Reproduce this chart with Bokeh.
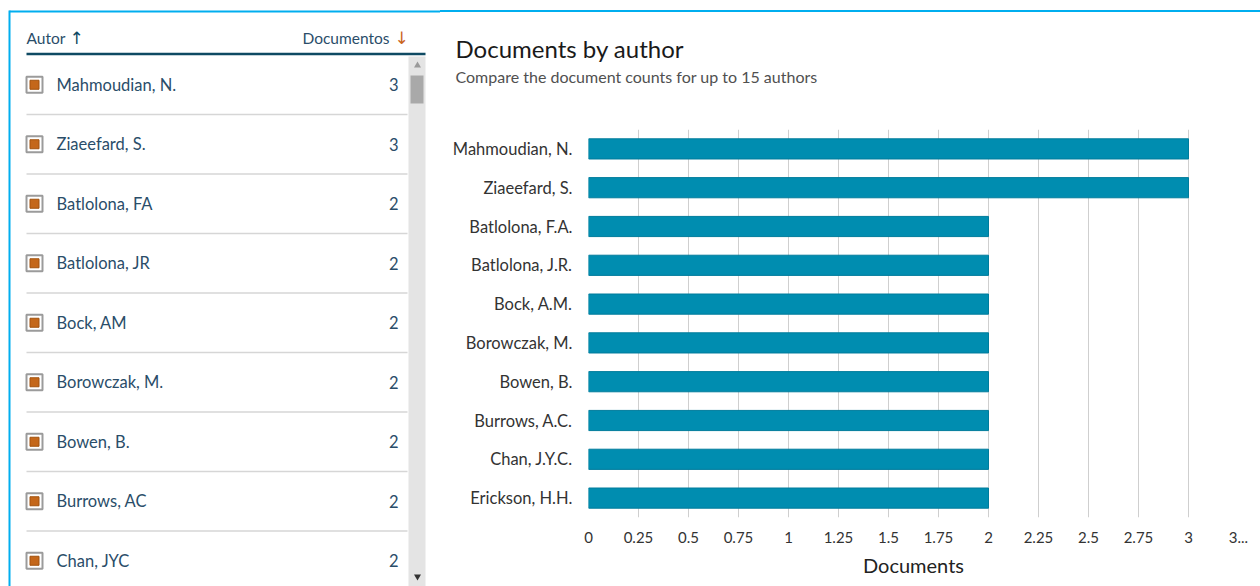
from bokeh.plotting import figure
from bokeh.layouts import row, column
from bokeh.models import Range1d, FactorRange, FixedTicker, ColumnDataSource, Title, Div, Spacer
from bokeh.core.properties import value
from bokeh.embed import file_html
from bokeh.resources import INLINE

# ---------------- data ----------------
list_authors = ["Mahmoudian, N.", "Ziaeefard, S.", "Batlolona, FA", "Batlolona, JR",
                "Bock, AM", "Borowczak, M.", "Bowen, B.", "Burrows, AC", "Chan, JYC"]
list_counts = [3, 3, 2, 2, 2, 2, 2, 2, 2]

chart_authors = ["Mahmoudian, N.", "Ziaeefard, S.", "Batlolona, F.A.", "Batlolona, J.R.",
                 "Bock, A.M.", "Borowczak, M.", "Bowen, B.", "Burrows, A.C.",
                 "Chan, J.Y.C.", "Erickson, H.H."]
chart_values = [3, 3, 2, 2, 2, 2, 2, 2, 2, 2]

x_ticks = [0, 0.25, 0.5, 0.75, 1, 1.25, 1.5, 1.75, 2, 2.25, 2.5, 2.75, 3, 3.25]
x_tick_labels = ["0", "0.25", "0.5", "0.75", "1", "1.25", "1.5", "1.75", "2",
                 "2.25", "2.5", "2.75", "3", "3..."]

chart_title = "Documents by author"
chart_subtitle = "Compare the document counts for up to 15 authors"
x_label = "Documents"
col_author = "Autor"
col_docs = "Documentos"

# ---------------- style ----------------
FONT = "Lato"
BLUE_BORDER = "#00aeef"
BAR = "#008db0"
BAR_EDGE = "#007c9c"
TEXT_LIST = "#2a4d69"
HEADER_LINE = "#0f4a63"
ORANGE = "#c9651d"

H = 586
LW = 440
RW = 820
TOP = 12  # bottom of the blue line of the right part


def blank(w, h):
    f = figure(width=w, height=h, x_range=Range1d(0, w), y_range=Range1d(h, 0),
               output_backend="svg", toolbar_location=None, min_border=0,
               x_axis_location=None, y_axis_location=None)
    f.grid.visible = False
    f.outline_line_color = None
    f.background_fill_color = "white"
    f.border_fill_color = "white"
    return f

# ---------------- left list panel ----------------
left = blank(LW, H)
left.segment(x0=[9, 9], y0=[10, 11], x1=[9, LW], y1=[H, 11],
             line_color=BLUE_BORDER, line_width=2)

row_top = 54.5
row_h = 59.5
n = len(list_authors)
ys = [row_top + (i + 0.5) * row_h for i in range(n)]

# scrollbar
left.quad(left=[408], right=[425], top=[56], bottom=[H], fill_color="#e4e4e4", line_color=None)
left.quad(left=[410], right=[423], top=[75], bottom=[103], fill_color="#a9a9a9", line_color=None)
left.scatter(x=[417], y=[65], marker="triangle", size=7, fill_color="#9a9a9a", line_color=None)
left.scatter(x=[417], y=[576], marker="inverted_triangle", size=7, fill_color="#333333", line_color=None)

# header
left.text(x=[26], y=[37], text=[col_author], text_font=value(FONT), text_font_size="15.5px",
          text_color=TEXT_LIST, text_baseline="middle", text_align="left")
left.text(x=[76], y=[37], text=["\u2191"], text_font=value("DejaVu Sans"), text_font_size="17px",
          text_color=HEADER_LINE, text_baseline="middle", text_align="center")
left.text(x=[389], y=[37], text=[col_docs], text_font=value(FONT), text_font_size="15.5px",
          text_color=TEXT_LIST, text_baseline="middle", text_align="right")
left.text(x=[401], y=[37], text=["\u2193"], text_font=value("DejaVu Sans"), text_font_size="17px",
          text_color=ORANGE, text_baseline="middle", text_align="center")
left.segment(x0=[26], y0=[53.5], x1=[425], y1=[53.5], line_color=HEADER_LINE, line_width=2.5)

# separators
sep_y = [y + row_h / 2 for y in ys[:-1]]
left.segment(x0=[26] * len(sep_y), y0=sep_y, x1=[407] * len(sep_y), y1=sep_y,
             line_color="#d6d6d6", line_width=1.5)

src = ColumnDataSource(dict(y=ys, name=list_authors, cnt=[str(c) for c in list_counts],
                            bx=[34] * n, nx=[56] * n, cx=[398] * n))
left.scatter(x="bx", y="y", source=src, marker="square", size=16, fill_color="white",
             line_color="#9b9b9b", line_width=2)
left.scatter(x="bx", y="y", source=src, marker="square", size=9, fill_color="#c4671a",
             line_color="#a3530f", line_width=1)
left.text(x="nx", y="y", text="name", source=src, text_font=value(FONT), text_font_size="16.5px",
          text_color=TEXT_LIST, text_baseline="middle", text_align="left")
left.text(x="cx", y="y", text="cnt", source=src, text_font=value(FONT), text_font_size="16.5px",
          text_color=TEXT_LIST, text_baseline="middle", text_align="right")

# ---------------- chart ----------------
CH = H - TOP
p = figure(width=RW, height=CH,
           title=chart_title,
           y_range=FactorRange(factors=chart_authors[::-1]),
           x_range=Range1d(0, 3.25),
           output_backend="svg", toolbar_location=None,
           min_border_left=148, min_border_right=22, min_border_top=117, min_border_bottom=69)
p.hbar(y=chart_authors, right=chart_values, left=0, height=0.52,
       fill_color=BAR, line_color=BAR_EDGE, line_width=1)

p.title.align = "left"
p.title.offset = -133
p.title.text_font = FONT
p.title.text_font_size = "24px"
p.title.text_font_style = "normal"
p.title.text_color = "#1a1a1a"
p.title.standoff = 2
# empty gap between subtitle and plot area
p.add_layout(Title(text=" ", text_font_size="10px", standoff=30), "above")
p.add_layout(Title(text=chart_subtitle, align="left", offset=-133, text_font=FONT,
                   text_font_size="16px", text_font_style="normal", text_color="#505050",
                   standoff=2), "above")

p.outline_line_color = None
p.ygrid.grid_line_color = None
p.xgrid.grid_line_color = "#cfcfcf"
p.xgrid.grid_line_width = 1

p.xaxis.ticker = FixedTicker(ticks=x_ticks)
p.xaxis.major_label_overrides = {t: l for t, l in zip(x_ticks, x_tick_labels)}
p.xaxis.axis_label = x_label
for ax in (p.xaxis, p.yaxis):
    ax.axis_line_color = None
    ax.major_tick_line_color = None
    ax.minor_tick_line_color = None
    ax.major_tick_out = 0
    ax.major_label_text_font = FONT
    ax.major_label_text_color = "#333333"
p.xaxis.major_label_text_font_size = "15px"
p.xaxis.major_label_standoff = 14
p.xaxis.axis_label_text_font = FONT
p.xaxis.axis_label_text_font_size = "20px"
p.xaxis.axis_label_text_font_style = "normal"
p.xaxis.axis_label_text_color = "#222222"
p.xaxis.axis_label_standoff = 7
p.yaxis.major_label_text_font_size = "16.5px"
p.yaxis.major_label_standoff = 16

top_gap = Spacer(width=RW, height=TOP - 2, margin=0)
top_line = Div(text="", width=RW, height=2, margin=0,
               styles={"background-color": BLUE_BORDER})
layout = row(left, column(top_gap, top_line, p))
open("out.html", "w").write(file_html(layout, INLINE))
